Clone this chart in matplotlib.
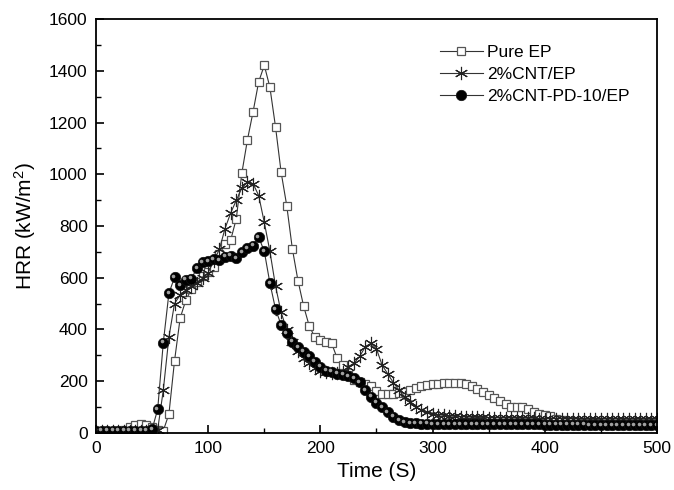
#!/usr/bin/env python3

import matplotlib
matplotlib.use("Agg")
import matplotlib.pyplot as plt
from matplotlib.ticker import MultipleLocator
from matplotlib.transforms import offset_copy
import numpy as np

plt.rcParams["font.family"] = ["Liberation Sans", "DejaVu Sans"]
plt.rcParams["mathtext.fontset"] = "custom"
plt.rcParams["mathtext.rm"] = "Liberation Sans"
plt.rcParams["mathtext.it"] = "Liberation Sans"

# time axis, one reading every 5 s
time_s = np.arange(0, 505, 5)

pure_ep = [
    8, 8, 8, 8, 8, 10, 22, 30, 32, 28,
    22, 12, 8, 72, 278, 443, 512, 555, 585, 605,
    622, 642, 690, 730, 745, 827, 1005, 1134, 1242, 1358,
    1422, 1337, 1184, 1008, 879, 712, 589, 491, 414, 370,
    357, 352, 346, 288, 262, 225, 205, 195, 189, 180,
    160, 151, 150, 151, 153, 158, 166, 175, 182, 185,
    188, 190, 191, 192, 194, 191, 189, 182, 170, 158,
    147, 134, 122, 110, 101, 101, 98, 91, 82, 74,
    68, 63, 55, 50, 47, 44, 41, 39, 37, 36,
    35, 34, 33, 32, 32, 31, 30, 30, 29, 29,
    28,
]

cnt_ep = [
    5, 5, 5, 5, 5, 5, 5, 5, 5, 5,
    6, 12, 165, 370, 500, 533, 552, 568, 580, 598,
    620, 665, 710, 790, 850, 899, 947, 969, 964, 918,
    814, 702, 568, 466, 398, 350, 315, 290, 268, 250,
    240, 235, 232, 230, 235, 256, 269, 295, 333, 346,
    324, 262, 228, 194, 165, 140, 120, 101, 88, 80,
    74, 70, 67, 65, 63, 62, 61, 60, 59, 59,
    58, 58, 57, 57, 57, 56, 56, 56, 56, 55,
    55, 55, 55, 55, 54, 54, 54, 54, 54, 53,
    53, 53, 53, 53, 52, 52, 52, 52, 52, 52,
    52,
]

cnt_pd_ep = [
    8, 8, 8, 8, 8, 8, 8, 8, 8, 8,
    13, 91, 349, 540, 601, 572, 592, 596, 637, 660,
    663, 672, 667, 682, 685, 676, 698, 715, 724, 757,
    702, 579, 479, 417, 385, 353, 331, 314, 295, 275,
    256, 240, 236, 229, 225, 219, 212, 195, 165, 140,
    116, 98, 80, 62, 48, 41, 38, 36, 35, 35,
    34, 34, 34, 34, 34, 33, 33, 33, 33, 33,
    33, 33, 32, 32, 32, 32, 32, 32, 32, 32,
    31, 31, 31, 31, 31, 31, 31, 31, 30, 30,
    30, 30, 30, 30, 30, 30, 30, 30, 30, 30,
    30,
]

labels = ["Pure EP", "2%CNT/EP", "2%CNT-PD-10/EP"]


def main() -> None:
    fig = plt.figure(figsize=(6.74, 4.9), dpi=100)
    ax = fig.add_axes([0.1424, 0.1169, 0.8324, 0.8437])

    line_kw = dict(color="#333333", linewidth=0.8)

    ax.plot(time_s, pure_ep, marker="s", markersize=6.2, markerfacecolor="white",
            markeredgecolor="#555555", markeredgewidth=0.9, label=labels[0], **line_kw)
    ax.plot(time_s, cnt_ep, marker=(6, 2, 0), markersize=9.5, markeredgecolor="#222222",
            markeredgewidth=0.8, label=labels[1], **line_kw)
    ax.plot(time_s, cnt_pd_ep, marker="o", markersize=7.5, markerfacecolor="black",
            markeredgecolor="#111111", markeredgewidth=0.5, label=labels[2], **line_kw)

    # shading highlight on the spheres
    shine = offset_copy(ax.transData, fig=fig, x=-1.3, y=1.3, units="dots")
    ax.plot(time_s, cnt_pd_ep, linestyle="none", marker="o", markersize=2.6,
            markerfacecolor="#a0a0a0", markeredgecolor="none", transform=shine)

    ax.set_xlim(0, 500)
    ax.set_ylim(0, 1600)
    ax.xaxis.set_major_locator(MultipleLocator(100))
    ax.xaxis.set_minor_locator(MultipleLocator(50))
    ax.yaxis.set_major_locator(MultipleLocator(200))
    ax.yaxis.set_minor_locator(MultipleLocator(100))
    ax.tick_params(which="both", direction="in", top=False, right=False)
    ax.tick_params(which="major", length=6, width=1.2, labelsize=12.5, pad=6)
    ax.tick_params(which="minor", length=3.5, width=1.0)
    for sp in ax.spines.values():
        sp.set_linewidth(1.3)

    ax.set_xlabel("Time (S)", fontsize=15, labelpad=4)
    ax.set_ylabel("HRR (kW/m$^2$)", fontsize=15, labelpad=8)

    ax.legend(loc="upper left", bbox_to_anchor=(0.6, 0.955), frameon=False, fontsize=12.5,
              handlelength=2.5, handletextpad=0.25, labelspacing=0.4, borderaxespad=0)

    plt.savefig("out.png", dpi=100)


if __name__ == "__main__":
    main()
